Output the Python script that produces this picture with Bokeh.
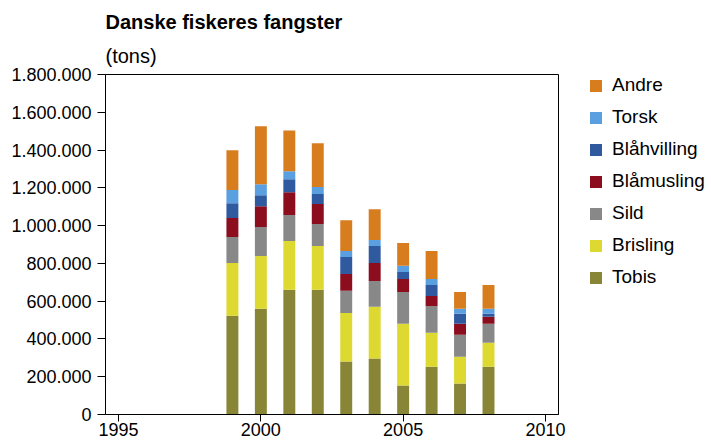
from bokeh.plotting import figure
from bokeh.layouts import row
from bokeh.models import ColumnDataSource, FixedTicker, Legend, LegendItem, Range1d, Title
from bokeh.embed import file_html
from bokeh.resources import INLINE

years = [1999, 2000, 2001, 2002, 2003, 2004, 2005, 2006, 2007, 2008]
tobis = [523000, 560000, 660000, 660000, 280000, 296000, 153000, 253000, 164000, 253000]
brisling = [279000, 279000, 258000, 232000, 258000, 274000, 327000, 180000, 142000, 127000]
sild = [138000, 153000, 138000, 116000, 117000, 137000, 169000, 142000, 116000, 100000]
blaamusling = [100000, 111000, 121000, 107000, 89000, 95000, 69000, 53000, 58000, 37000]
blaahvilling = [79000, 58000, 69000, 52000, 90000, 90000, 37000, 58000, 53000, 16000]
torsk = [69000, 58000, 42000, 38000, 32000, 32000, 32000, 32000, 27000, 27000]
andre = [211000, 307000, 216000, 231000, 163000, 163000, 121000, 148000, 89000, 126000]

series_names = ["Tobis", "Brisling", "Sild", "Blåmusling", "Blåhvilling", "Torsk", "Andre"]
series_keys = ["tobis", "brisling", "sild", "blaamusling", "blaahvilling", "torsk", "andre"]
colors = ["#888636", "#DDD930", "#888888", "#8B0D1E", "#305AA0", "#5AA0E0", "#D87D1E"]

y_ticks = [0, 200000, 400000, 600000, 800000, 1000000, 1200000, 1400000, 1600000, 1800000]
y_labels = ["0", "200.000", "400.000", "600.000", "800.000", "1.000.000", "1.200.000",
            "1.400.000", "1.600.000", "1.800.000"]
x_ticks = [1995, 2000, 2005, 2010]

title_text = "Danske fiskeres fangster"
subtitle_text = "(tons)"

FONT = "Liberation Sans"

source = ColumnDataSource(dict(year=years, tobis=tobis, brisling=brisling, sild=sild,
                               blaamusling=blaamusling, blaahvilling=blaahvilling,
                               torsk=torsk, andre=andre))

p = figure(width=566, height=443, output_backend="svg", toolbar_location=None,
           x_range=Range1d(1994.54, 2010.46), y_range=Range1d(0, 1800000),
           min_border_left=105, min_border_right=8, min_border_top=74, min_border_bottom=29)

renderers = p.vbar_stack(series_keys, x="year", width=0.42, color=colors, line_color=None,
                         source=source)

p.add_layout(Title(text=subtitle_text, align="left", text_font=FONT, text_font_size="20px",
                   text_font_style="normal", text_color="black", standoff=15), "above")
p.add_layout(Title(text=title_text, align="left", text_font=FONT, text_font_size="20px",
                   text_font_style="bold", text_color="black", standoff=5), "above")

p.xgrid.visible = False
p.ygrid.visible = False
p.outline_line_color = "black"
p.outline_line_alpha = 1
p.outline_line_width = 1

p.xaxis.ticker = FixedTicker(ticks=x_ticks)
p.yaxis.ticker = FixedTicker(ticks=y_ticks)
p.yaxis.major_label_overrides = {t: l for t, l in zip(y_ticks, y_labels)}

for ax in (p.xaxis, p.yaxis):
    ax.axis_line_color = "black"
    ax.major_tick_line_color = "black"
    ax.minor_tick_line_color = None
    ax.major_tick_in = 0
    ax.major_label_text_font = FONT
    ax.major_label_text_font_size = "18px"
    ax.major_label_text_color = "black"

p.xaxis.major_tick_out = 7
p.xaxis.major_label_standoff = 1
p.yaxis.major_tick_out = 8
p.yaxis.major_label_standoff = 6

# legend panel as a second figure (same series, out of its visible range)
p2 = figure(width=145, height=443, output_backend="svg", toolbar_location=None,
            x_range=Range1d(0, 1), y_range=Range1d(0, 1),
            min_border_left=0, min_border_right=0, min_border_top=0, min_border_bottom=0)
p2.axis.visible = False
p2.grid.visible = False
p2.outline_line_color = None

legend_renderers = p2.vbar_stack(series_keys, x="year", width=0.42, color=colors,
                                 line_color=None, source=source)

items = [LegendItem(label=n, renderers=[r]) for n, r in zip(series_names, legend_renderers)][::-1]
legend = Legend(items=items, location=(22, 126), orientation="vertical",
                glyph_width=15, glyph_height=15, label_height=22, label_standoff=9,
                spacing=10, padding=0, margin=0,
                label_text_font=FONT, label_text_font_size="19px", label_text_color="black",
                border_line_color=None, background_fill_alpha=0)
p2.add_layout(legend, "center")

layout = row(p, p2, spacing=0)
open("out.html", "w").write(file_html(layout, INLINE))
